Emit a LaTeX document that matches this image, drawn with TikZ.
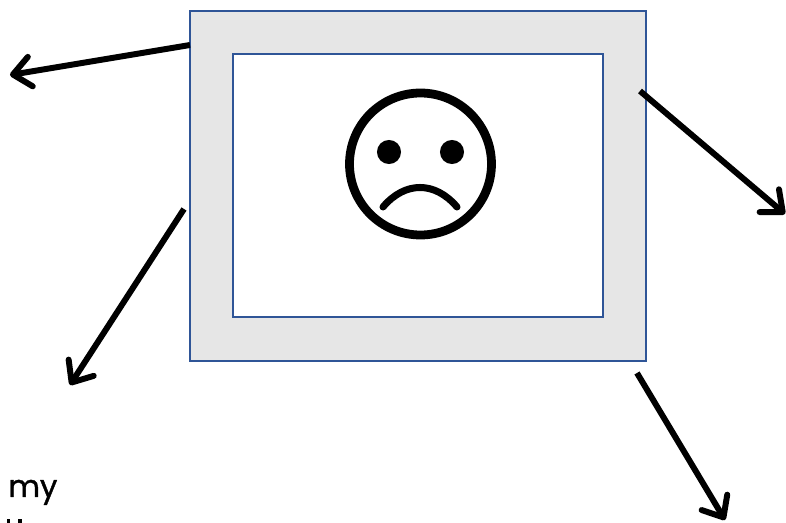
\documentclass[tikz,border=0pt]{standalone}
\usepackage{fontspec}
\setmainfont[RawFeature={embolden=1.2}]{Poppins}
\usepackage{tikz}
\usetikzlibrary{arrows.meta,positioning,calc}
\definecolor{framefill}{HTML}{E6E6E6}
\definecolor{frameline}{HTML}{2F5597}
\begin{document}
\begin{tikzpicture}[
  frame/.style={draw=frameline, line width=1.5pt, inner sep=0pt, outer sep=0pt},
  arrow/.style={-{Straight Barb[length=10pt,width=17pt,line width=3.4pt,round]}, line width=3.4pt},
  face/.style={draw, circle, line width=5pt, minimum size=80.8pt, inner sep=0pt, outer sep=0pt},
  eye/.style={fill, circle, minimum size=13.7pt, inner sep=0pt, outer sep=0pt},
  label/.style={font=\fontsize{17.5}{22}\selectfont, anchor=base west, inner sep=0pt},
  tick/.style={line width=1.8pt}
]
\path[use as bounding box] (0,0) rectangle (15.72,-10.46);
\clip (0,0) rectangle (15.72,-10.46);
% frame
\node[frame, fill=framefill, minimum width=9.12cm, minimum height=7cm] (outer) at (8.36,-3.72) {};
\node[frame, fill=white, minimum width=7.4cm, minimum height=5.26cm] (inner) at (8.36,-3.71) {};
% face
\node[face] (smiley) at (8.41,-3.28) {};
\node[eye] (lefteye) at (7.78,-3.04) {};
\node[eye] (righteye) at (9.04,-3.04) {};
\coordinate (mouthL) at (7.66,-4.14);
\coordinate (mouthR) at (9.14,-4.14);
\draw[line width=4pt, line cap=round] (mouthL) .. controls (8.1,-3.62) and (8.7,-3.62) .. (mouthR);
% arrows
\coordinate (startA) at (3.8,-0.9);
\coordinate (endA) at (0.2,-1.5);
\coordinate (startB) at (12.8,-1.82);
\coordinate (endB) at (15.7,-4.28);
\coordinate (startC) at (3.68,-4.18);
\coordinate (endC) at (1.4,-7.7);
\coordinate (startD) at (12.74,-7.46);
\coordinate (endD) at (14.5,-10.4);
\draw[arrow] (startA) -- (endA);
\draw[arrow] (startB) -- (endB);
\draw[arrow] (startC) -- (endC);
\draw[arrow] (startD) -- (endD);
% text
\node[label] (note) at (0.16,-9.94) {my};
% tops of the next line, cut by the page
\coordinate (tickA) at (0.17,-10.39);
\coordinate (tickB) at (0.4,-10.39);
\draw[tick] (tickA) -- ++(0,-0.1);
\draw[tick] (tickB) -- ++(0,-0.1);
\end{tikzpicture}
\end{document}
